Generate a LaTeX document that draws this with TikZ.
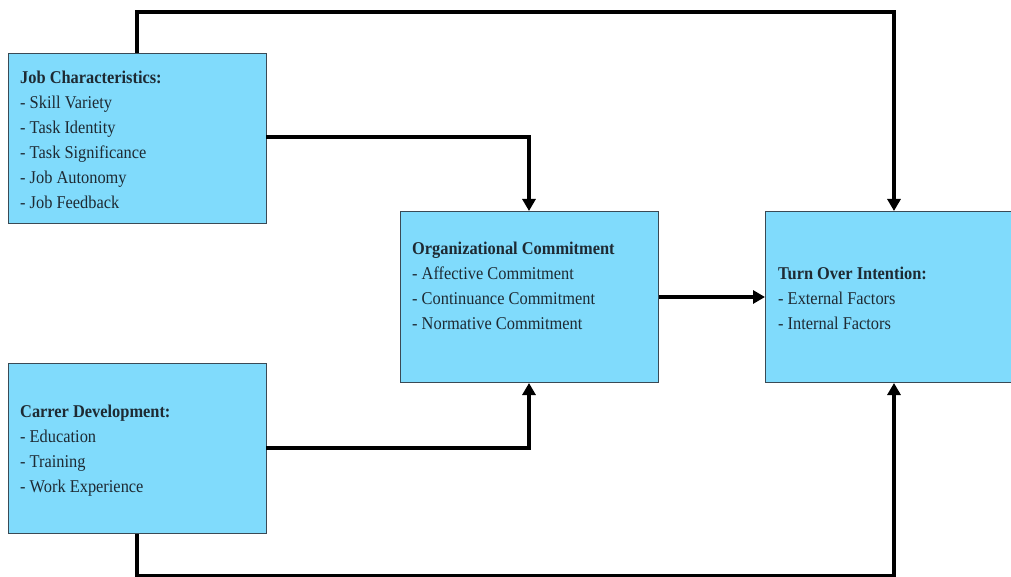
\documentclass[tikz,border=0pt]{standalone}
\usepackage{fontspec}
\setmainfont{Liberation Serif}[FakeStretch=0.91]
\usetikzlibrary{arrows.meta}
\definecolor{boxfill}{HTML}{80DBFC}
\definecolor{boxline}{HTML}{3A4A55}
\definecolor{txt}{HTML}{1E2A33}
\begin{document}
\begin{tikzpicture}[x=1pt,y=-1pt,
  box/.style={draw=boxline,line width=1pt,fill=boxfill,minimum width=#1,inner sep=0pt},
  box/.default=258pt,
  lbl/.style={anchor=north west,inner sep=0pt,align=left,text=txt,font=\fontsize{18}{25}\selectfont},
  conn/.style={line width=3.2pt,black},
  arr/.style={conn,-{Triangle[length=12pt,width=13pt]}}]
\useasboundingbox (0,0) rectangle (1011,577);
% boxes
\node[box,minimum height=170pt,anchor=north west] (jc) at (8,53) {};
\node[box,minimum height=170pt,anchor=north west] (cd) at (8,363) {};
\node[box,minimum height=171pt,anchor=north west] (oc) at (400,211) {};
\node[box=252pt,minimum height=171pt,anchor=north west] (toi) at (765,211) {};
% texts
\node[lbl] (jct) at (20,71) {\textbf{Job Characteristics:}\\- Skill Variety\\- Task Identity\\- Task Significance\\- Job Autonomy\\- Job Feedback};
\node[lbl] (cdt) at (20,405) {\textbf{Carrer Development:}\\- Education\\- Training\\- Work Experience};
\node[lbl] (oct) at (412,242) {\textbf{Organizational Commitment}\\- Affective Commitment\\- Continuance Commitment\\- Normative Commitment};
\node[lbl] (toit) at (778,267) {\textbf{Turn Over Intention:}\\- External Factors\\- Internal Factors};
% helper coordinates
\coordinate (tl) at (137,12);
\coordinate (tr) at (894,12);
\coordinate (bl) at (137,575.5);
\coordinate (br) at (894,575.5);
\coordinate (jcr) at (266,137);
\coordinate (jcc) at (529,137);
\coordinate (cdr) at (266,448);
\coordinate (cdc) at (529,448);
% connectors
\draw[arr] (jc.north -| tl) |- (tr) -- (toi.north -| tr);
\draw[arr] (cd.south -| bl) |- (br) -- (toi.south -| br);
\draw[arr] (jcr) -| (oc.north -| jcc);
\draw[arr] (cdr) -| (oc.south -| cdc);
\draw[arr] (oc.east |- 0,297) -- (toi.west |- 0,297);
\end{tikzpicture}
\end{document}
